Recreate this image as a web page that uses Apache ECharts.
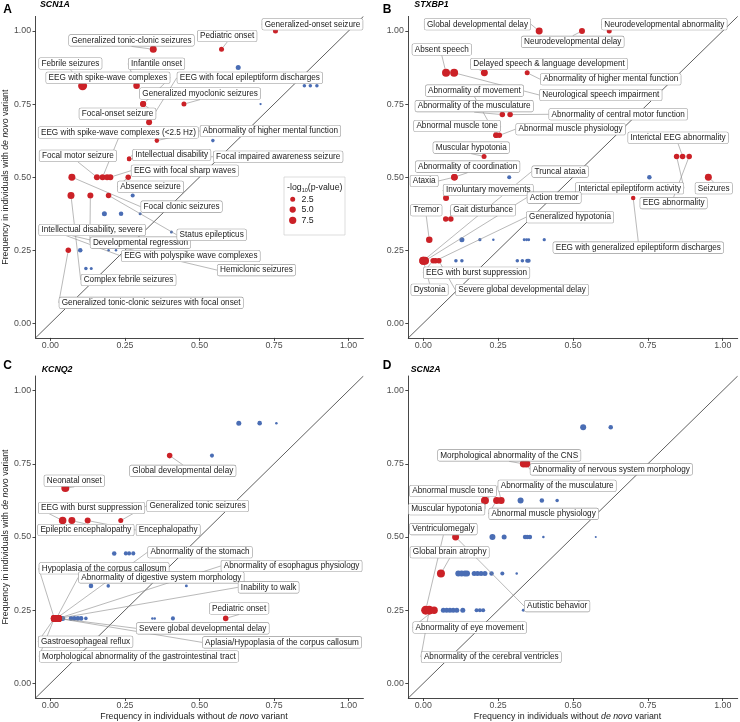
<!DOCTYPE html>
<html><head><meta charset="utf-8">
<script src="https://cdn.jsdelivr.net/npm/echarts@6/dist/echarts.min.js"></script>
<style>html,body{margin:0;padding:0;background:#fff}#c{width:740px;height:722px}</style>
</head><body><div id="c"></div>
<script>
// ---------- shared axis values ----------
const TICKS = [0, 0.25, 0.5, 0.75, 1];
const LIMITS = [-0.05, 1.05];
const LEGEND_VALUES = [2.5, 5.0, 7.5];

// ---------- Panel A : SCN1A ----------
const A_gene = 'SCN1A';
const A_red_x = [0.755,0.574,0.345,0.289,0.108,0.311,0.311,0.448,0.331,0.357,0.264,0.264,0.072,0.156,0.175,0.190,0.201,0.261,0.069,0.134,0.195,0.020,0.020,0.020,0.060];
const A_red_y = [1.0,0.9375,0.9375,0.8125,0.8125,0.75,0.75,0.75,0.6875,0.625,0.5625,0.5625,0.5,0.5,0.5,0.5,0.5,0.5,0.4375,0.4375,0.4375,0.3125,0.3125,0.3125,0.25];
const A_red_p = [2.5,2.5,6.7,5.5,13,4.4,4.4,2.5,4.4,1.8,1.8,1.8,6.7,4.4,4.4,4.4,4.4,3.4,6.7,4.4,3.4,4.4,4.4,4.4,3.4];
const A_red_label = ['Generalized-onset seizure','Pediatric onset','Generalized tonic-clonic seizures','Infantile onset','Febrile seizures','EEG with spike-wave complexes','Focal-onset seizure','Generalized myoclonic seizures','EEG with focal epileptiform discharges','Abnormality of higher mental function','Intellectual disability','Focal impaired awareness seizure','Focal clonic seizures','Focal motor seizure','EEG with spike-wave complexes (<2.5 Hz)','','EEG with focal sharp waves','Absence seizure','Complex febrile seizures','Developmental regression','Status epilepticus','Intellectual disability, severe','EEG with polyspike wave complexes','Hemiclonic seizures','Generalized tonic-clonic seizures with focal onset'];
const A_blue_x = [0.630,0.852,0.872,0.894,0.705,0.545,0.276,0.181,0.237,0.301,0.406,0.100,0.195,0.220,0.119,0.137];
const A_blue_y = [0.875,0.8125,0.8125,0.8125,0.75,0.625,0.4375,0.375,0.375,0.375,0.3125,0.25,0.25,0.25,0.1875,0.1875];
const A_blue_p = [2.5,0.7,0.7,0.7,0.05,0.7,1.2,2.5,1.8,0.33,0.33,1.8,0.1,0.1,0.7,0.33];
// label anchors (data units), one per red point
const A_lab_x = [0.879,0.593,0.272,0.356,0.067,0.193,0.225,0.502,0.669,0.738,0.407,0.764,0.440,0.092,0.228,null,0.451,0.336,0.262,0.302,0.541,0.140,0.471,0.691,0.338];
const A_lab_y = [1.023,0.983,0.968,0.888,0.889,0.840,0.717,0.786,0.840,0.658,0.576,0.570,0.399,0.573,0.653,null,0.522,0.467,0.148,0.276,0.303,0.319,0.230,0.182,0.070];

// ---------- Panel B : STXBP1 ----------
const B_gene = 'STXBP1';
const B_red_x = [0.387,0.530,0.621,0.076,0.103,0.204,0.347,0.264,0.290,0.243,0.243,0.254,0.203,0.846,0.866,0.888,0.104,0.104,0.952,0.076,0.701,0.075,0.092,0.020,0.000,0.006,0.000,0.033,0.041,0.052];
const B_red_y = [1.0,1.0,1.0,0.857,0.857,0.857,0.857,0.714,0.714,0.643,0.643,0.643,0.571,0.571,0.571,0.571,0.5,0.5,0.5,0.429,0.429,0.357,0.357,0.286,0.214,0.214,0.214,0.214,0.214,0.214];
const B_red_p = [6.7,4.4,2.5,9.6,9.6,6.7,2.5,3.4,3.4,3.4,3.4,3.4,2.5,3.4,3.4,3.4,5.5,5.5,6.7,4.4,1.8,3.4,3.4,5.5,9.6,9.6,9.6,3.4,3.4,3.4];
const B_red_label = ['Global developmental delay','Neurodevelopmental delay','Neurodevelopmental abnormality','Absent speech','Neurological speech impairment','Delayed speech & language development','Abnormality of higher mental function','Abnormality of the musculature','Abnormality of central motor function','Abnormal muscle tone','Abnormality of movement','Abnormal muscle physiology','Muscular hypotonia','Interictal epileptiform activity','Interictal EEG abnormality','EEG abnormality','Abnormality of coordination','Ataxia','Seizures','Involuntary movements','EEG with generalized epileptiform discharges','','Gait disturbance','Tremor','Truncal ataxia','Action tremor','Dystonia','EEG with burst suppression','Generalized hypotonia','Severe global developmental delay'];
const B_blue_x = [0.287,0.755,0.129,0.189,0.234,0.337,0.345,0.352,0.404,0.109,0.129,0.314,0.331,0.347,0.352];
const B_blue_y = [0.5,0.5,0.286,0.286,0.286,0.286,0.286,0.286,0.286,0.214,0.214,0.214,0.214,0.214,0.214];
const B_blue_p = [1.2,1.8,2.5,0.5,0.1,0.3,0.3,0.3,0.5,0.7,0.7,0.7,0.7,1.2,1.2];
const B_lab_x = [0.181,0.499,0.805,0.062,0.593,0.420,0.626,0.170,0.651,0.113,0.171,0.492,0.160,0.689,0.851,0.836,0.148,0.003,0.970,0.217,0.718,null,0.200,0.010,0.457,0.437,0.021,0.178,0.490,0.330];
const B_lab_y = [1.023,0.963,1.023,0.937,0.781,0.887,0.835,0.743,0.715,0.675,0.796,0.664,0.601,0.462,0.635,0.411,0.536,0.487,0.462,0.456,0.259,null,0.387,0.387,0.519,0.430,0.115,0.173,0.363,0.114];

// ---------- Panel C : KCNQ2 ----------
const C_gene = 'KCNQ2';
const C_red_x = [0.400,0.050,0.041,0.072,0.125,0.236,0.013,0.013,0.013,0.020,0.020,0.027,0.027,0.027,0.027,0.588];
const C_red_y = [0.778,0.667,0.556,0.556,0.556,0.556,0.222,0.222,0.222,0.222,0.222,0.222,0.222,0.222,0.222,0.222];
const C_red_p = [3.4,9.6,8.1,6.7,4.4,2.5,6.7,6.7,6.7,6.7,6.7,6.7,6.7,6.7,6.7,3.4];
const C_red_label = ['Global developmental delay','Neonatal onset','EEG with burst suppression','Epileptic encephalopathy','Encephalopathy','Generalized tonic seizures','Hypoplasia of the corpus callosum','Gastroesophageal reflux','Morphological abnormality of the gastrointestinal tract','Abnormality of digestive system morphology','Abnormality of the stomach','Abnormality of esophagus physiology','Inability to walk','Severe global developmental delay','Aplasia/Hypoplasia of the corpus callosum','Pediatric onset'];
const C_blue_x = [0.632,0.702,0.758,0.542,0.214,0.253,0.264,0.278,0.136,0.194,0.456,0.041,0.069,0.080,0.092,0.103,0.119,0.342,0.350,0.411];
const C_blue_y = [0.889,0.889,0.889,0.778,0.444,0.444,0.444,0.444,0.333,0.333,0.333,0.222,0.222,0.222,0.222,0.222,0.222,0.222,0.222,0.222];
const C_blue_p = [2.5,1.8,0.1,1.2,1.8,1.2,1.2,1.2,1.8,0.7,0.3,2.5,1.8,1.8,1.8,1.8,0.7,0.1,0.1,1.2];
const C_lab_x = [0.444,0.080,0.138,0.119,0.395,0.494,0.180,0.118,0.297,0.372,0.502,0.809,0.732,0.511,0.777,0.633];
const C_lab_y = [0.726,0.692,0.599,0.524,0.524,0.606,0.393,0.142,0.092,0.362,0.448,0.401,0.328,0.188,0.140,0.256];

// ---------- Panel D : SCN2A ----------
const D_gene = 'SCN2A';
const D_red_x = [0.335,0.345,0.206,0.206,0.245,0.260,0.108,0.059,0.008,0.020,0.036];
const D_red_y = [0.75,0.75,0.625,0.625,0.625,0.625,0.5,0.375,0.25,0.25,0.25];
const D_red_p = [8.1,8.1,8.1,8.1,6.7,6.7,6.7,9.6,13,13,8.1];
const D_red_label = ['Morphological abnormality of the CNS','Abnormality of nervous system morphology','Abnormal muscle tone','Muscular hypotonia','Abnormal muscle physiology','Abnormality of the musculature','Autistic behavior','Global brain atrophy','Ventriculomegaly','Abnormality of the cerebral ventricles','Abnormality of eye movement'];
const D_blue_x = [0.534,0.626,0.325,0.396,0.447,0.231,0.270,0.340,0.347,0.356,0.401,0.576,0.117,0.128,0.139,0.146,0.170,0.181,0.193,0.206,0.228,0.264,0.312,0.067,0.078,0.089,0.100,0.112,0.132,0.178,0.189,0.200,0.334];
const D_blue_y = [0.875,0.875,0.625,0.625,0.625,0.5,0.5,0.5,0.5,0.5,0.5,0.5,0.375,0.375,0.375,0.375,0.375,0.375,0.375,0.375,0.375,0.375,0.375,0.25,0.25,0.25,0.25,0.25,0.25,0.25,0.25,0.25,0.25];
const D_blue_p = [4.4,1.8,4.4,1.8,0.7,4.4,2.5,1.8,1.8,1.8,0.1,0.01,4.4,4.4,4.4,4.4,2.5,2.5,2.5,2.5,1.8,1.2,0.1,2.5,2.5,2.5,2.5,2.5,2.5,1.2,1.2,1.2,0.3];
const D_lab_x = [0.287,0.628,0.099,0.078,0.402,0.447,0.447,0.088,0.067,0.227,0.155];
const D_lab_y = [0.779,0.731,0.657,0.595,0.579,0.675,0.264,0.448,0.527,0.090,0.191];

// ---------- build ----------
const RED = '#CB2127', BLUE = '#4A6DB4';
const FONT = '"Liberation Sans", Arial, Helvetica, sans-serif';
function dia(v) { return 1.87 + 1.98 * Math.sqrt(Math.max(v, 0)); }

const panels = [
  {gene: A_gene, rx: A_red_x, ry: A_red_y, rp: A_red_p, rl: A_red_label, lx: A_lab_x, ly: A_lab_y, bx: A_blue_x, by: A_blue_y, bp: A_blue_p},
  {gene: B_gene, rx: B_red_x, ry: B_red_y, rp: B_red_p, rl: B_red_label, lx: B_lab_x, ly: B_lab_y, bx: B_blue_x, by: B_blue_y, bp: B_blue_p},
  {gene: C_gene, rx: C_red_x, ry: C_red_y, rp: C_red_p, rl: C_red_label, lx: C_lab_x, ly: C_lab_y, bx: C_blue_x, by: C_blue_y, bp: C_blue_p},
  {gene: D_gene, rx: D_red_x, ry: D_red_y, rp: D_red_p, rl: D_red_label, lx: D_lab_x, ly: D_lab_y, bx: D_blue_x, by: D_blue_y, bp: D_blue_p}
];

const grids = [
  {left: 34.4, top: 16.4, width: 329, height: 321.5},
  {left: 408.3, top: 16.4, width: 329.4, height: 321.5},
  {left: 34.4, top: 376, width: 329, height: 322},
  {left: 408.3, top: 376, width: 329.4, height: 322}
];

const axisLineStyle = {color: '#333', width: 0.9};
const tickLabel = {customValues: TICKS, formatter: v => v.toFixed(2), color: '#4d4d4d', fontSize: 8.8, fontFamily: FONT};
const richItalic = {i: {fontStyle: 'italic', fontSize: 8.8, fontFamily: FONT, color: '#1a1a1a'}};

const xAxes = grids.map((g, i) => ({
  type: 'value', gridIndex: i, min: LIMITS[0], max: LIMITS[1],
  axisLine: {show: true, onZero: false, lineStyle: axisLineStyle},
  axisTick: {show: true, length: 3, customValues: TICKS, lineStyle: axisLineStyle},
  axisLabel: Object.assign({margin: 3}, tickLabel),
  splitLine: {show: false},
  name: i >= 2 ? 'Frequency in individuals without {i|de novo} variant' : '',
  nameLocation: 'middle', nameGap: 14,
  nameTextStyle: {color: '#1a1a1a', fontSize: 8.8, fontFamily: FONT, padding: [0, 11, 0, 0], rich: richItalic}
}));
const yAxes = grids.map((g, i) => ({
  type: 'value', gridIndex: i, min: LIMITS[0], max: LIMITS[1],
  axisLine: {show: true, onZero: false, lineStyle: axisLineStyle},
  axisTick: {show: true, length: 3, customValues: TICKS, lineStyle: axisLineStyle},
  axisLabel: Object.assign({margin: 4.5}, tickLabel),
  splitLine: {show: false},
  name: (i % 2 === 0) ? 'Frequency in individuals with {i|de novo} variant' : '',
  nameLocation: 'middle', nameRotate: 90, nameGap: 22,
  nameTextStyle: {color: '#1a1a1a', fontSize: 8.8, fontFamily: FONT, rich: richItalic}
}));

const labelStyle = {
  show: true, formatter: '{b}', fontSize: 8.2, fontFamily: FONT, color: '#1a1a1a',
  backgroundColor: '#fff', borderColor: '#9a9a9a', borderWidth: 0.6, borderRadius: 1.5,
  padding: [1.3, 2.4, 1, 2.4], lineHeight: 8.6
};

const series = [];
panels.forEach((P, i) => {
  series.push({
    id: 'diag' + i, type: 'line', xAxisIndex: i, yAxisIndex: i, silent: true, z: 1,
    data: [[LIMITS[0], LIMITS[0]], [LIMITS[1], LIMITS[1]]],
    symbol: 'none', lineStyle: {color: '#1a1a1a', width: 0.7}
  });
  series.push({
    id: 'blue' + i, type: 'scatter', xAxisIndex: i, yAxisIndex: i, z: 2,
    data: P.bx.map((x, k) => [x, P.by[k], P.bp[k]]),
    symbolSize: d => dia(d[2]),
    itemStyle: {color: BLUE, opacity: 1}
  });
  series.push({
    id: 'red' + i, type: 'scatter', xAxisIndex: i, yAxisIndex: i, z: 3,
    data: P.rx.map((x, k) => ({
      name: P.rl[k], value: [x, P.ry[k], P.rp[k]],
      label: {show: P.rl[k] !== ''}
    })),
    symbolSize: d => dia(d[2]),
    itemStyle: {color: RED, opacity: 1},
    label: labelStyle,
    labelLine: {show: true, length2: 0, smooth: false, lineStyle: {color: '#8a8a8a', width: 0.6}},
    emphasis: {disabled: true}
  });
});

// ---------- graphic: panel tags, gene names, size legend ----------
const tags = [['A', 3.3, 9.5], ['B', 382.7, 9.5], ['C', 3.3, 365.5], ['D', 382.7, 365.5]];
const geneTags = [[A_gene, 40, 5], [B_gene, 414.3, 5], [C_gene, 41.7, 370], [D_gene, 410.7, 370]];
const graphic = [];
tags.forEach(t => graphic.push({type: 'text', x: t[1], y: t[2], style: {text: t[0], fill: '#000', font: 'bold 12px ' + FONT, verticalAlign: 'middle', align: 'left'}}));
geneTags.forEach(t => graphic.push({type: 'text', x: t[1], y: t[2], style: {text: t[0], fill: '#000', font: 'italic bold 8.8px ' + FONT, verticalAlign: 'middle', align: 'left'}}));
// legend box
graphic.push({type: 'rect', shape: {x: 284, y: 177, width: 61, height: 58}, style: {fill: '#fff', stroke: '#c8c8c8', lineWidth: 0.6}, z: 10});
graphic.push({type: 'text', x: 287, y: 188, z: 11, style: {
  text: '-log{s|10}(p-value)', fill: '#1a1a1a', font: '8.8px ' + FONT, verticalAlign: 'middle',
  rich: {s: {fontSize: 5.5, fontFamily: FONT, fill: '#1a1a1a', padding: [5, 0, 0, 0]}}
}});
LEGEND_VALUES.forEach((v, k) => {
  const cy = [199.3, 209.6, 220.3][k];
  graphic.push({type: 'circle', z: 11, shape: {cx: 292.7, cy: cy, r: dia(v) / 2}, style: {fill: RED}});
  graphic.push({type: 'text', z: 11, x: 301.5, y: cy, style: {text: v.toFixed(1), fill: '#1a1a1a', font: '8.8px ' + FONT, verticalAlign: 'middle'}});
});

const chart = echarts.init(document.getElementById('c'));
chart.setOption({
  animation: false,
  backgroundColor: '#fff',
  grid: grids,
  xAxis: xAxes,
  yAxis: yAxes,
  series: series,
  graphic: graphic
});

// second pass: place labels at their anchors (converted through the axes)
const upd = panels.map((P, i) => {
  const pix = P.lx.map((lx, k) => lx == null ? null : chart.convertToPixel({gridIndex: i}, [lx, P.ly[k]]));
  return {
    id: 'red' + i,
    labelLayout: function (params) {
      const p = pix[params.dataIndex];
      if (!p) return {};
      return {x: p[0], y: p[1], align: 'center', verticalAlign: 'middle', hideOverlap: false};
    }
  };
});
chart.setOption({series: upd});
</script>
</body></html>
